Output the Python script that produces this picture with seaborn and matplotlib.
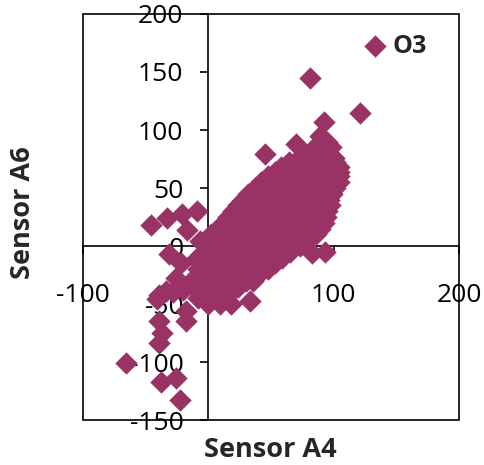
import matplotlib
matplotlib.use("Agg")
import matplotlib.pyplot as plt
import seaborn as sns
import pandas as pd
from matplotlib.patches import Rectangle

# ---- data (Sensor A4 vs Sensor A6, O3) ----
# dense cloud, listed row by row (A6 level, A4 positions), then outliers
sensor_a4 = [
    0, 9, 18,
    -4, 5, 13,
    -8, 0, 10, 18,
    -4, 5, 15, 24,
    -8, 0, 10, 20, 30, 36,
    -4, 5, 15, 25, 35, 40,
    -8, 0, 10, 20, 30, 40, 48,
    -4, 5, 15, 25, 35, 45, 53,
    -4, 2, 12, 22, 32, 42, 52, 59,
    -3, 7, 17, 27, 37, 47, 57, 65,
    -2, 4, 14, 24, 34, 44, 54, 64, 73,
    0, 9, 19, 29, 39, 49, 59, 69, 79,
    2, 8, 16, 26, 36, 46, 56, 66, 76, 86,
    8, 13, 21, 31, 41, 51, 61, 71, 81, 89,
    12, 18, 24, 34, 44, 54, 64, 74, 84, 92,
    16, 22, 29, 39, 49, 59, 69, 79, 89, 94,
    20, 26, 36, 46, 56, 66, 76, 86, 95,
    24, 31, 41, 51, 61, 71, 81, 91, 97,
    28, 36, 46, 56, 66, 76, 86, 96,
    32, 41, 51, 61, 71, 81, 91, 99,
    37, 44, 54, 64, 74, 84, 94, 101,
    42, 49, 59, 69, 79, 89, 99, 104,
    48, 54, 64, 74, 84, 94, 104,
    53, 59, 69, 79, 89, 99, 104,
    58, 66, 76, 86, 96, 104,
    64, 71, 81, 91, 101,
    72, 80, 90, 100,
    80, 86, 95,
    85, 92, 98,
    89, 95,
    89,
    81, 121, 92, 70, 45, 83, 93, 33,
    -66, -38, -26, -23, -39, -37, -39, -41, -18, -18,
    -46, -33, -21, -9, -17, -31, -22, -10, -7,
    -26, -34, -39, -28, -14, -20, -8,
]
sensor_a6 = [
    -50, -50, -50,
    -45, -45, -45,
    -40, -40, -40, -40,
    -35, -35, -35, -35,
    -30, -30, -30, -30, -30, -30,
    -25, -25, -25, -25, -25, -25,
    -20, -20, -20, -20, -20, -20, -20,
    -15, -15, -15, -15, -15, -15, -15,
    -10, -10, -10, -10, -10, -10, -10, -10,
    -5, -5, -5, -5, -5, -5, -5, -5,
    0, 0, 0, 0, 0, 0, 0, 0, 0,
    5, 5, 5, 5, 5, 5, 5, 5, 5,
    10, 10, 10, 10, 10, 10, 10, 10, 10, 10,
    15, 15, 15, 15, 15, 15, 15, 15, 15, 15,
    20, 20, 20, 20, 20, 20, 20, 20, 20, 20,
    25, 25, 25, 25, 25, 25, 25, 25, 25, 25,
    30, 30, 30, 30, 30, 30, 30, 30, 30,
    35, 35, 35, 35, 35, 35, 35, 35, 35,
    40, 40, 40, 40, 40, 40, 40, 40,
    45, 45, 45, 45, 45, 45, 45, 45,
    50, 50, 50, 50, 50, 50, 50, 50,
    55, 55, 55, 55, 55, 55, 55, 55,
    60, 60, 60, 60, 60, 60, 60,
    64, 64, 64, 64, 64, 64, 64,
    68, 68, 68, 68, 68, 68,
    72, 72, 72, 72, 72,
    76, 76, 76, 76,
    80, 80, 80,
    85, 85, 85,
    90, 90,
    95,
    145, 115, 107, 88, 79, -6, -5, -47,
    -101, -117, -114, -133, -84, -75, -65, -46, -65, -56,
    18, 24, 28, 30, 14, -7, -15, -11, 4,
    -28, -39, -42, -40, -30, -38, -45,
]
series_name = "O3"
x_label = "Sensor A4"
y_label = "Sensor A6"
x_ticks = [-100, 0, 100, 200]
y_ticks = [-150, -100, -50, 0, 50, 100, 150, 200]

sns.set_theme(style="white")
plt.rcParams['font.family'] = ['Open Sans', 'DejaVu Sans']
plt.rcParams['axes.unicode_minus'] = False

W, H = 484, 465
fig = plt.figure(figsize=(W / 100, H / 100), dpi=100)
ax = fig.add_axes([83 / W, 45 / H, 376 / W, 406 / H])

df = pd.DataFrame({x_label: sensor_a4, y_label: sensor_a6})
sns.scatterplot(data=df, x=x_label, y=y_label, color="#993366", marker="D",
                s=130, linewidth=0, ax=ax, zorder=3, label=series_name)

ax.set_xlim(-100, 200)
ax.set_ylim(-150, 200)
ax.set_xticks(x_ticks)
ax.set_yticks(y_ticks)
ax.set_xticklabels([str(v) for v in x_ticks])
ax.set_yticklabels([str(v) for v in y_ticks])
ax.set_xlabel("")
ax.set_ylabel("")
ax.set_axisbelow(True)

ax.spines['left'].set_position(('data', 0))
ax.spines['bottom'].set_position(('data', 0))
ax.spines['right'].set_visible(False)
ax.spines['top'].set_visible(False)
for s in ['left', 'bottom']:
    ax.spines[s].set_color('black')
    ax.spines[s].set_linewidth(1.2)
    ax.spines[s].set_zorder(1)
ax.add_patch(Rectangle((0, 0), 1, 1, transform=ax.transAxes, fill=False,
                       ec='black', lw=1.2, zorder=1, clip_on=False))

ax.tick_params(axis='y', direction='out', left=True, length=6, width=1.2,
               color='black', labelcolor='black', labelsize=19, pad=12)
ax.tick_params(axis='x', direction='out', bottom=True, length=6, width=1.2,
               color='black', labelcolor='black', labelsize=19, pad=21)

ax.legend(loc='center left', bbox_to_anchor=(0.751, 0.921), frameon=False,
          borderpad=0, borderaxespad=0, handlelength=0.8, handletextpad=0.3,
          scatterpoints=1, prop={'weight': 'bold', 'size': 18})

fig.text(270 / W, 1 - 457 / H, x_label, ha='center', va='baseline',
         fontsize=19.5, fontweight='bold')
fig.text(23 / W, 1 - 213 / H, y_label, ha='center', va='center', rotation=90,
         fontsize=19.5, fontweight='bold')

fig.savefig("out.png", dpi=100)
